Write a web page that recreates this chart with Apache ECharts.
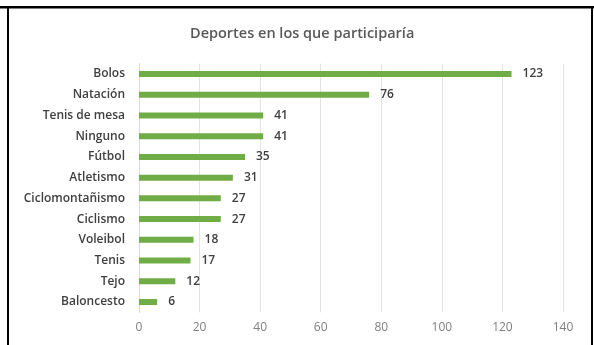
<!DOCTYPE html>
<html><head><meta charset="utf-8">
<script src="https://cdn.jsdelivr.net/npm/echarts@6/dist/echarts.min.js"></script>
<style>html,body{margin:0;padding:0;background:#fff}#c{width:594px;height:345px}</style>
</head><body><div id="c"></div>
<script>
const titleText = 'Deportes en los que participaría';
const categories = ['Bolos','Natación','Tenis de mesa','Ninguno','Fútbol','Atletismo','Ciclomontañismo','Ciclismo','Voleibol','Tenis','Tejo','Baloncesto'];
const values = [123,76,41,41,35,31,27,27,18,17,12,6];
const xTicks = [0,20,40,60,80,100,120,140];

const chart = echarts.init(document.getElementById('c'), null, {renderer:'canvas'});
const font = '"Open Sans", "Noto Sans", sans-serif';
chart.setOption({
  animation:false,
  backgroundColor:'#fff',
  title:{text:titleText,left:185,top:21,textStyle:{fontFamily:font,fontSize:14.5,fontWeight:600,color:'#595959'}},
  grid:{left:139,top:63.6,width:424,height:248.8,containLabel:false},
  xAxis:{type:'value',min:xTicks[0],max:xTicks[xTicks.length-1],interval:20,
    axisLine:{show:false},axisTick:{show:false},
    splitLine:{show:true,lineStyle:{color:'#e3e3e3',width:1}},
    axisLabel:{color:'#7f7f7f',fontFamily:font,fontSize:12,margin:9}},
  yAxis:{type:'category',data:categories,inverse:true,
    axisLine:{show:true,lineStyle:{color:'#d9d9d9'}},axisTick:{show:false},
    axisLabel:{color:'#404040',fontFamily:font,fontSize:12,fontWeight:600,margin:14}},
  series:[{type:'bar',data:values,barWidth:6,itemStyle:{color:'#70ad47'},
    label:{show:true,position:'right',distance:11,color:'#404040',fontFamily:font,fontSize:12,fontWeight:600}}],
  graphic:[
    {type:'rect',shape:{x:0,y:6,width:594,height:2.5},style:{fill:'#000'}},
    {type:'rect',shape:{x:7,y:6,width:2,height:339},style:{fill:'#000'}},
    {type:'rect',shape:{x:591,y:6,width:2,height:339},style:{fill:'#000'}}
  ]
});
</script></body></html>
